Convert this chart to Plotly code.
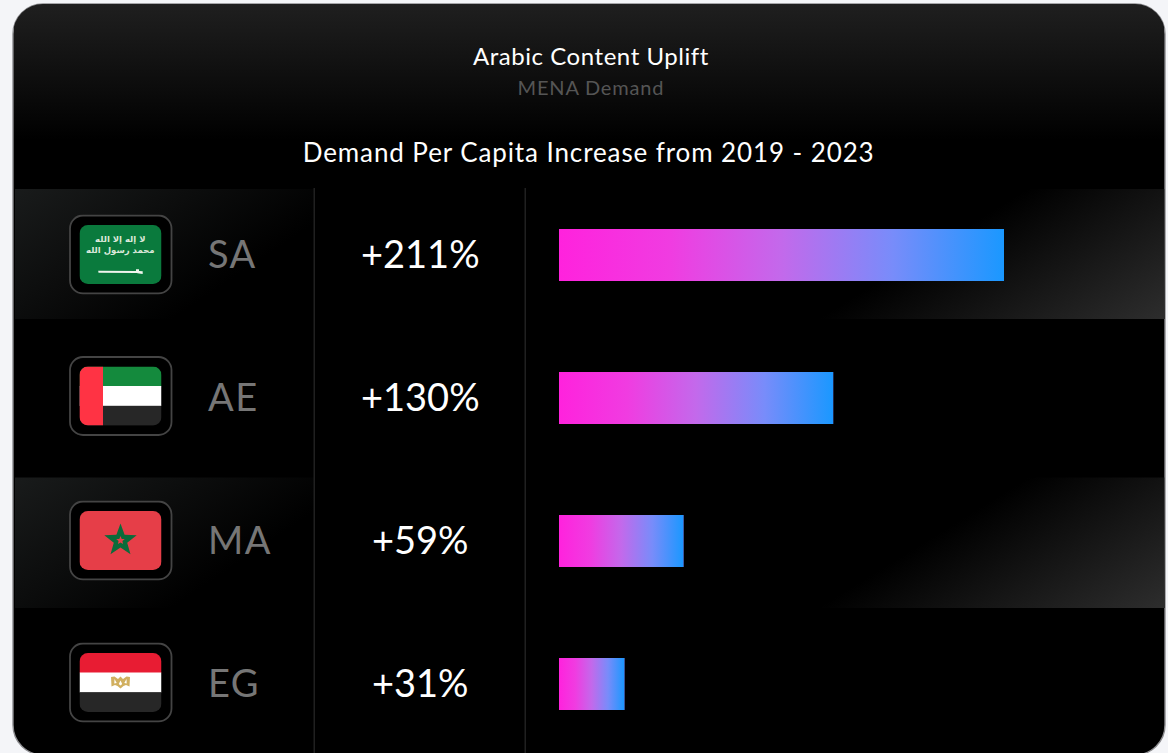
import base64
import json
import plotly.graph_objects as go

# ---------- data ----------
codes = ["SA", "AE", "MA", "EG"]
uplift = [211, 130, 59, 31]
value_labels = ["+211%", "+130%", "+59%", "+31%"]
title_text = "Arabic Content Uplift"
subtitle_text = "MENA Demand"
heading_text = "Demand Per Capita Increase from 2019 - 2023"
shahada_lines = ["لا إله إلا الله", "محمد رسول الله"]

# ---------- page geometry (pixels) ----------
W, H = 1168, 753
ZERO_X, PX_PER_UNIT = 559, 2.109
FIRST_ROW_Y, ROW_STEP, BAR_PX = 255, 143, 52
BAR_HALF = BAR_PX / ROW_STEP / 2
BAR_SCALE = [[0, "#ff22dd"], [0.25, "#f03ce1"], [0.5, "#c369eb"], [0.75, "#788cfa"], [1, "#1a98ff"]]
FONT = "Lato"


def px(x):
    return x / W


def py(y):
    return 1 - y / H


def svg_uri(svg):
    return "data:image/svg+xml;base64," + base64.b64encode(svg.encode()).decode()


# ---------- card background ----------
def band_svg(idx, y0, h):
    return f'''
<defs>
<linearGradient id="l{idx}" gradientUnits="userSpaceOnUse" x1="15" y1="{y0}" x2="124.4" y2="{y0+162.3}">
<stop offset="0" stop-color="#191b1b"/><stop offset="1" stop-color="#191b1b" stop-opacity="0"/></linearGradient>
<linearGradient id="r{idx}" gradientUnits="userSpaceOnUse" x1="818" y1="{y0+h}" x2="916" y2="{y0+h+158}">
<stop offset="0" stop-color="#2e2e2e" stop-opacity="0"/><stop offset="1" stop-color="#2e2e2e"/></linearGradient>
</defs>
<rect x="15" y="{y0}" width="299" height="{h}" fill="url(#l{idx})"/>
<rect x="526" y="{y0}" width="639" height="{h}" fill="url(#r{idx})"/>'''


card_svg = f'''<svg xmlns="http://www.w3.org/2000/svg" width="{W}" height="{H}" viewBox="0 0 {W} {H}">
<defs>
<linearGradient id="top" x1="0" y1="4" x2="0" y2="140" gradientUnits="userSpaceOnUse">
<stop offset="0" stop-color="#1f1f1f"/><stop offset="1" stop-color="#000"/></linearGradient>
<clipPath id="c"><rect x="13" y="4" width="1152" height="751" rx="30" ry="30"/></clipPath>
</defs>
<rect x="13" y="4" width="1152" height="751" rx="30" ry="30" fill="#000" stroke="#8c8c8f" stroke-width="1.4"/>
<g clip-path="url(#c)">
<rect x="14" y="4" width="1150" height="140" fill="url(#top)"/>
{band_svg(1, 189, 130)}
{band_svg(2, 477.5, 130.5)}
<rect x="313.5" y="188" width="1.5" height="570" fill="#202020"/>
<rect x="524.5" y="188" width="1.5" height="570" fill="#202020"/>
</g></svg>'''


# ---------- flags ----------
def flag_svg(body):
    return f'''<svg xmlns="http://www.w3.org/2000/svg" width="104" height="80" viewBox="0 0 104 80">
<defs><clipPath id="f"><rect x="10.5" y="10.5" width="82" height="59" rx="8.5"/></clipPath></defs>
<rect x="1" y="1" width="101.5" height="78" rx="13" fill="#000" stroke="#444" stroke-width="1.8"/>
<g clip-path="url(#f)"><g transform="translate(10.5 10.5)">{body}</g></g></svg>'''


flag_bodies = {
    "SA": '''<rect width="82" height="59" fill="#0a7a3d"/>
<path d="M18.7 45.8 L56.5 46 L56.5 44.2 L59.5 44.2 L59.5 45.9 L63.2 46.3 L63.2 49 L59.5 48.4 L57 48 L19 47.8 Z" fill="#f0f5ee"/>''',
    "AE": '''<rect width="82" height="20" fill="#148a3d"/><rect y="19.5" width="82" height="20" fill="#fff"/>
<rect y="39.3" width="82" height="20" fill="#272727"/><rect width="23.5" height="59" fill="#ff3344"/>''',
    "MA": '''<rect width="82" height="59" fill="#e63e48"/>
<path d="M41 12.5 L45.1 23.8 L57.2 24.2 L47.7 31.7 L51 43.3 L41 36.5 L31 43.3 L34.3 31.7 L24.8 24.2 L36.9 23.8 Z" fill="#0c6b3a"/>
<path d="M41 25 L42.2 27.9 L45.3 28.1 L42.9 30.1 L43.6 33.1 L41 31.5 L38.4 33.1 L39.1 30.1 L36.7 28.1 L39.8 27.9 Z" fill="#e63e48"/>''',
    "EG": '''<rect width="82" height="20" fill="#e81c33"/><rect y="19.5" width="82" height="20" fill="#fff"/>
<rect y="39.3" width="82" height="20" fill="#272727"/>
<path d="M31.5 24 L35 23.6 L38.5 26 L41 23.4 L43.5 26 L47 23.6 L50.5 24 L50 33.6 L46.5 32 L44 33 L41 35.6 L38 33 L35.5 32 L32 33.6 Z
M35 26 L34.8 30.5 L37.2 30 Z M47 26 L47.2 30.5 L44.8 30 Z M41 27.5 L39.3 31 L41 32.6 L42.7 31 Z" fill="#d1b060" fill-rule="evenodd"/>''',
}
frame_tops = [214.5, 356, 500.5, 642.5]

images = [dict(source=svg_uri(card_svg), xref="paper", yref="paper", x=0, y=1,
               sizex=1, sizey=1, sizing="stretch", xanchor="left", yanchor="top", layer="below")]
for code, top in zip(codes, frame_tops):
    images.append(dict(source=svg_uri(flag_svg(flag_bodies[code])), xref="paper", yref="paper",
                       x=px(69), y=py(top), sizex=104 / W, sizey=80 / H, sizing="stretch",
                       xanchor="left", yanchor="top", layer="above"))


# ---------- text ----------
def label(x, y, text, size, color, anchor="center", weight=400, family=FONT):
    return dict(xref="paper", yref="paper", x=px(x), y=py(y), text=text, showarrow=False,
                xanchor=anchor, yanchor="middle", align=anchor,
                font=dict(family=family, size=size, color=color, weight=weight))


annotations = [
    label(591, 55.5, title_text, 24, "#ffffff"),
    label(591, 87, subtitle_text, 20, "#555555"),
    label(588.5, 152, heading_text, 26, "#ffffff"),
]
spacing = {title_text: 0.55, subtitle_text: 0.8, heading_text: 0.9}
for i, (code, val) in enumerate(zip(codes, value_labels)):
    yc = FIRST_ROW_Y + i * ROW_STEP
    annotations.append(label(206, yc - 2, code, 38, "#767676", anchor="left"))
    annotations.append(label(420, yc - 2, val, 38, "#ffffff"))
    spacing[code] = 1.5
annotations.append(label(120.5, 245.5, "<br>".join(shahada_lines), 8.5, "#dbe8da",
                         weight=700, family="DejaVu Sans"))

# ---------- marks ----------
fig = go.Figure()
rows = list(range(len(codes)))
fig.add_trace(go.Bar(x=uplift, y=rows, orientation="h", width=BAR_HALF * 2,
                     marker=dict(color="#c369eb", line=dict(width=0)), showlegend=False,
                     hoverinfo="x+y"))
for r, v in zip(rows, uplift):
    fig.add_trace(go.Scatter(
        x=[0, v, v, 0, 0],
        y=[r - BAR_HALF, r - BAR_HALF, r + BAR_HALF, r + BAR_HALF, r - BAR_HALF],
        mode="lines", line=dict(width=0), fill="toself", hoverinfo="skip", showlegend=False,
        fillgradient=dict(type="horizontal", colorscale=BAR_SCALE),
    ))

fig.update_layout(
    width=W, height=H, margin=dict(l=0, r=0, t=0, b=0, pad=0, autoexpand=False),
    paper_bgcolor="#f4f5f8", plot_bgcolor="rgba(0,0,0,0)",
    showlegend=False, images=images, annotations=annotations,
    xaxis=dict(visible=False, range=[-ZERO_X / PX_PER_UNIT, (W - ZERO_X) / PX_PER_UNIT], fixedrange=True),
    yaxis=dict(visible=False, range=[(H - FIRST_ROW_Y) / ROW_STEP, -FIRST_ROW_Y / ROW_STEP], fixedrange=True),
)

post = """
document.body.style.margin='0';document.body.style.overflow='hidden';
var spacing = %s;
function applySpacing(){
  document.querySelectorAll('.annotation-text').forEach(function(t){
    var s = spacing[t.textContent];
    if (s) t.style.letterSpacing = s + 'px';
  });
}
applySpacing();
var gd = document.getElementById('{plot_id}');
if (gd && gd.on) gd.on('plotly_afterplot', applySpacing);
""" % json.dumps(spacing)

fig.write_html("out.html", config={"displayModeBar": False}, post_script=post)
